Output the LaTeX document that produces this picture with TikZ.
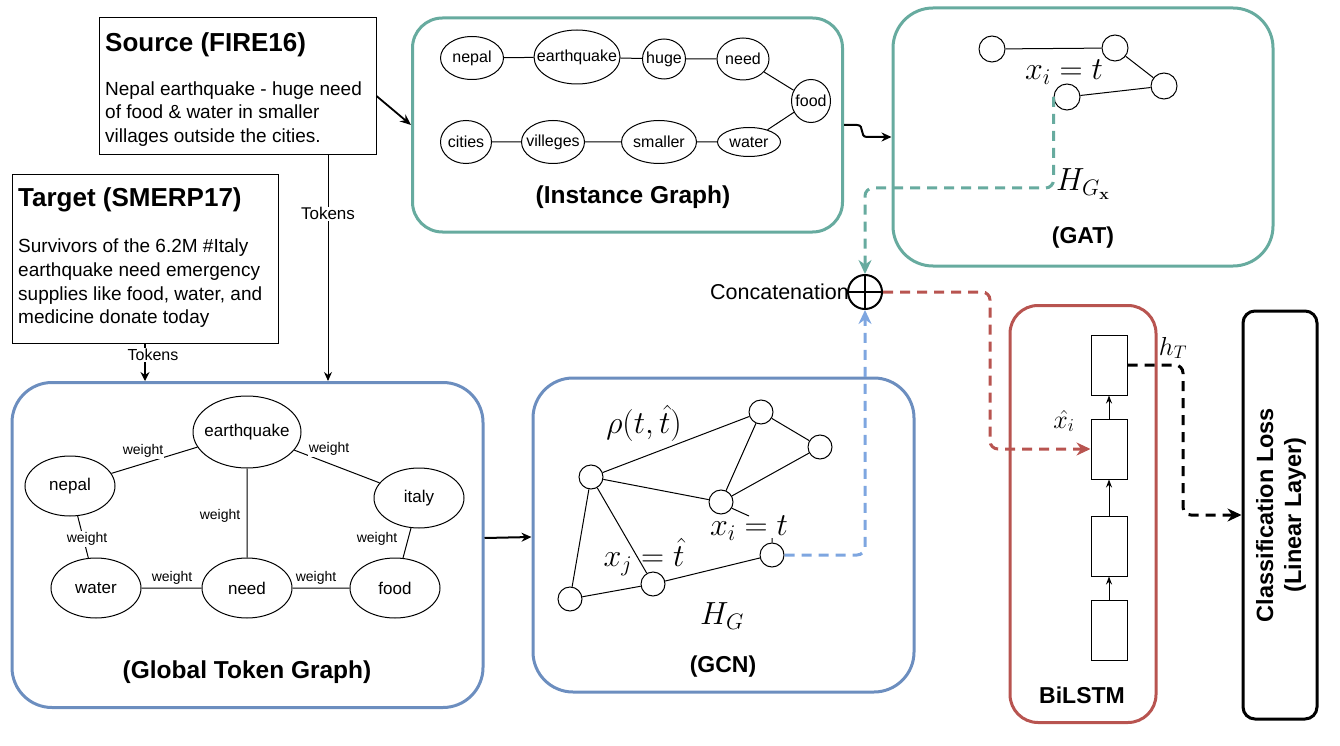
\RequirePackage{fix-cm}
\documentclass[tikz,border=0pt]{standalone}
\usepackage[no-math]{fontspec}
\setmainfont{Liberation Sans}
\usetikzlibrary{shapes.geometric,arrows.meta}
\definecolor{tealc}{RGB}{103,171,159}
\definecolor{bluec}{RGB}{108,142,191}
\definecolor{lbluec}{RGB}{126,166,224}
\definecolor{redc}{RGB}{184,84,80}
\newcommand\zw[1]{\makebox[0pt]{#1}}
\newcommand\fsz[2]{\fontsize{#1}{#2}\selectfont}
\begin{document}
\begin{tikzpicture}[x=1pt,y=-1pt,
 panel/.style={draw, line width=3pt, inner sep=0pt, rounded corners=#1},
 panel/.default=38pt,
 tok/.style={ellipse, draw, line width=1pt, inner sep=0pt, font=\fsz{16}{19}},
 gtok/.style={ellipse, draw, line width=1pt, inner sep=0pt, minimum width=90pt, minimum height=60pt, font=\fsz{17}{20}},
 wlab/.style={fill=white, inner sep=1pt, font=\fsz{14}{16}},
 gdot/.style={circle, draw, line width=1pt, inner sep=0pt, minimum size=24pt},
 cell/.style={draw, line width=1pt, inner sep=0pt, minimum width=36pt, minimum height=60pt},
 ttl/.style={font=\bfseries\fsz{23}{27}},
 wttl/.style={font=\bfseries\fsz{24.5}{28}},
 bigttl/.style={font=\bfseries\fsz{26}{30}, anchor=base west, inner sep=0pt},
 mth/.style={font=\fsz{32}{36}},
 txt/.style={anchor=base west, inner sep=0pt, font=\fsz{19}{23}},
 edge1/.style={line width=1pt},
 dsh/.style={line width=3pt, dash pattern=on 10pt off 7pt, rounded corners=8pt, -{Stealth[length=14pt,width=13pt]}},
]
\useasboundingbox (0,0) rectangle (1340,746);

% ---------- source / target boxes ----------
\node[draw, line width=1pt, minimum width=277pt, minimum height=137pt, inner sep=0pt] (src) at (237.5,86.5) {};
\node[bigttl] (srct) at (105,52) {Source (FIRE16)};
\node[txt] (s1) at (105,96) {Nepal earthquake - huge need};
\node[txt] (s2) at (105,119) {of food \& water in smaller};
\node[txt] (s3) at (105,143) {villages outside the cities.};

\node[draw, line width=1pt, minimum width=266pt, minimum height=168pt, inner sep=0pt] (tgt) at (145,259) {};
\node[bigttl] (tgtt) at (18,207) {Target (SMERP17)};
\node[txt] (t1) at (18,252) {Survivors of the 6.2M \#Italy};
\node[txt] (t2) at (18,276) {earthquake need emergency};
\node[txt] (t3) at (18,300) {supplies like food, water, and};
\node[txt] (t4) at (18,323) {medicine donate today};

% ---------- panels ----------
\node[panel=30pt, draw=tealc, minimum width=430pt, minimum height=214pt] (ig) at (627.5,125) {};
\node[panel=40pt, draw=tealc, minimum width=380pt, minimum height=258pt] (gat) at (1083,137) {};
\node[panel=40pt, draw=bluec, minimum width=471pt, minimum height=325pt] (gl) at (247.5,545) {};
\node[panel=40pt, draw=bluec, minimum width=381pt, minimum height=314pt] (gcn) at (723.5,535) {};
\node[panel=28pt, draw=redc, minimum width=146pt, minimum height=417pt] (bil) at (1083,514) {};
\node[panel=12pt, draw=black, minimum width=74pt, minimum height=408pt] (cls) at (1280,515) {};

% ---------- instance graph ----------
\node[tok, minimum width=63pt, minimum height=43pt] (inep) at (472,58) {\zw{nepal}};
\node[tok, minimum width=86pt, minimum height=54pt] (iear) at (577,57) {\zw{earthquake}};
\node[tok, minimum width=43pt, minimum height=40pt] (ihug) at (664,59) {\zw{huge}};
\node[tok, minimum width=52pt, minimum height=42pt] (inee) at (743,59) {\zw{need}};
\node[tok, minimum width=39pt, minimum height=43pt] (ifoo) at (811,101) {\zw{food}};
\node[tok, minimum width=51pt, minimum height=43pt] (icit) at (466,142) {\zw{cities}};
\node[tok, minimum width=63pt, minimum height=43pt] (ivil) at (553,142) {\zw{villeges}};
\node[tok, minimum width=75pt, minimum height=43pt] (isma) at (659,142) {\zw{smaller}};
\node[tok, minimum width=63pt, minimum height=29pt] (iwat) at (749,142) {\zw{water}};
\draw[edge1] (inep) -- (iear) (iear) -- (ihug) (ihug) -- (inee) (inee) -- (ifoo)
  (ifoo) -- (iwat) (iwat) -- (isma) (isma) -- (ivil) (ivil) -- (icit);
\node[wttl] (igt) at (633,197) {(Instance Graph)};

% ---------- GAT ----------
\node[gdot, minimum size=26pt] (g1) at (992,49) {};
\node[gdot, minimum size=26pt] (g2) at (1115,48) {};
\node[gdot, minimum size=26pt] (g3) at (1164,86) {};
\node[gdot, minimum size=26pt] (g4) at (1067,97) {};
\draw[edge1] (g1) -- (g2) (g2) -- (g3) (g3) -- (g4);
\node[mth] (gx) at (1064,72) {$x_i = t$};
\node[mth, anchor=west, inner sep=0pt] (gh) at (1056,184) {$H_{G_{\mathbf{x}}}$};
\node[ttl] (gatt) at (1083,238) {(GAT)};

% ---------- global token graph ----------
\node[gtok, minimum width=108pt, minimum height=72pt] (ge) at (247,432) {\zw{earthquake}};
\node[gtok] (gn) at (70,486) {\zw{nepal}};
\node[gtok] (gi) at (419,498) {\zw{italy}};
\node[gtok] (gw) at (96,588) {\zw{water}};
\node[gtok] (gd) at (247,588) {\zw{need}};
\node[gtok] (gf) at (395,588) {\zw{food}};
\draw[edge1] (ge) -- (gn) (ge) -- (gi) (ge) -- (gd) (gn) -- (gw) (gw) -- (gd) (gd) -- (gf) (gi) -- (gf);
\node[wlab] (w1) at (143,451) {weight};
\node[wlab] (w2) at (329,449) {weight};
\node[wlab] (w3) at (220,516) {weight};
\node[wlab] (w4) at (87,539) {weight};
\node[wlab] (w5) at (172,578) {weight};
\node[wlab] (w6) at (316,578) {weight};
\node[wlab] (w7) at (377,539) {weight};
\node[wttl] (glt) at (247,672) {(Global Token Graph)};

% ---------- GCN ----------
\node[gdot] (c1) at (591,477) {};
\node[gdot] (c2) at (761,412) {};
\node[gdot] (c3) at (820,447) {};
\node[gdot] (c4) at (721,502) {};
\node[gdot] (c5) at (772,555) {};
\node[gdot] (c6) at (653,584) {};
\node[gdot] (c7) at (570,599) {};
\coordinate (c4t) at (749,516);
\coordinate (c5t) at (772,538);
\draw[edge1] (c1) -- (c2) (c2) -- (c3) (c2) -- (c4) (c3) -- (c4) (c1) -- (c4)
  (c1) -- (c7) (c1) -- (c6) (c7) -- (c6) (c6) -- (c5) (c4.-30) -- (c4t) (c5.north) -- (c5t);
\node[mth] (rho) at (644,423) {$\rho(t,\hat{t})$};
\node[mth] (xi2) at (749,528) {$x_i = t$};
\node[mth] (xj) at (644,557) {$x_j = \hat{t}$};
\node[mth] (hg) at (722,616) {$H_G$};
\node[ttl] (gcnt) at (723,667) {(GCN)};

% ---------- BiLSTM ----------
\node[cell] (l1) at (1109,365) {};
\node[cell] (l2) at (1109,449) {};
\node[cell] (l3) at (1109,546) {};
\node[cell] (l4) at (1109,630) {};
\draw[edge1, -{Stealth[length=8pt,width=6pt]}] (l4) -- (l3);
\draw[edge1, -{Stealth[length=8pt,width=6pt]}] (l3) -- (l2);
\draw[edge1, -{Stealth[length=8pt,width=6pt]}] (l2) -- (l1);
\node[font=\fsz{26}{28}] (xh) at (1064,421) {$\hat{x_i}$};
\node[font=\fsz{26}{28}] (ht) at (1173,348) {$h_T$};
\node[ttl] (bilt) at (1082,695) {BiLSTM};
\node[rotate=90, align=center, font=\bfseries\fsz{23.5}{28}] (clst) at (1281,515) {Classification Loss\\(Linear Layer)};

% ---------- concatenation ----------
\node[circle, draw, line width=2pt, minimum size=34pt, inner sep=0pt] (cat) at (865,292) {};
\draw[line width=1.5pt] (cat.north) -- (cat.south) (cat.west) -- (cat.east);
\node[font=\fsz{21.5}{24}, anchor=east, inner sep=0pt] (catl) at (849,292) {Concatenation};

% ---------- connectors ----------
\draw[line width=1.8pt, -{Stealth[length=11pt,width=9pt]}] ([yshift=-9.5pt]src.east) -- (ig.west);
\coordinate (tk) at (328,155);
\draw[line width=1pt, -{Stealth[length=9pt,width=8pt]}] (tk) -- (tk |- gl.north)
  node[pos=0.26, fill=white, inner sep=1pt, font=\fsz{17}{19}] (tkl) {Tokens};
\draw[line width=1.3pt, -{Stealth[length=9pt,width=9pt]}] (tgt.south) -- (tgt.south |- gl.north);
\node[fill=white, inner sep=1pt, font=\fsz{16}{18}] (tk2l) at (153,355) {Tokens};
\draw[line width=2pt, -{Stealth[length=10pt,width=9pt]}] (ig.east) -- ++(13,0)
  .. controls +(8,0) and +(-8,0) .. ++(10,12) -- (gat.west);
\draw[line width=2pt, -{Stealth[length=10pt,width=9pt]}] ([yshift=7pt]gl.east) -- ([yshift=-2pt]gcn.west);

\draw[dsh, tealc] (g4.west) -- ++(0,91) -| (cat.north);
\draw[dsh, lbluec] (c5.east) -| (cat.south);
\coordinate (rc) at (990,449);
\draw[dsh, redc] (cat.east) -| (rc) -- (l2.west);
\coordinate (bc) at (1183,365);
\draw[dsh, black] (l1.east) -- (bc) |- (cls.west);
\end{tikzpicture}
\end{document}
